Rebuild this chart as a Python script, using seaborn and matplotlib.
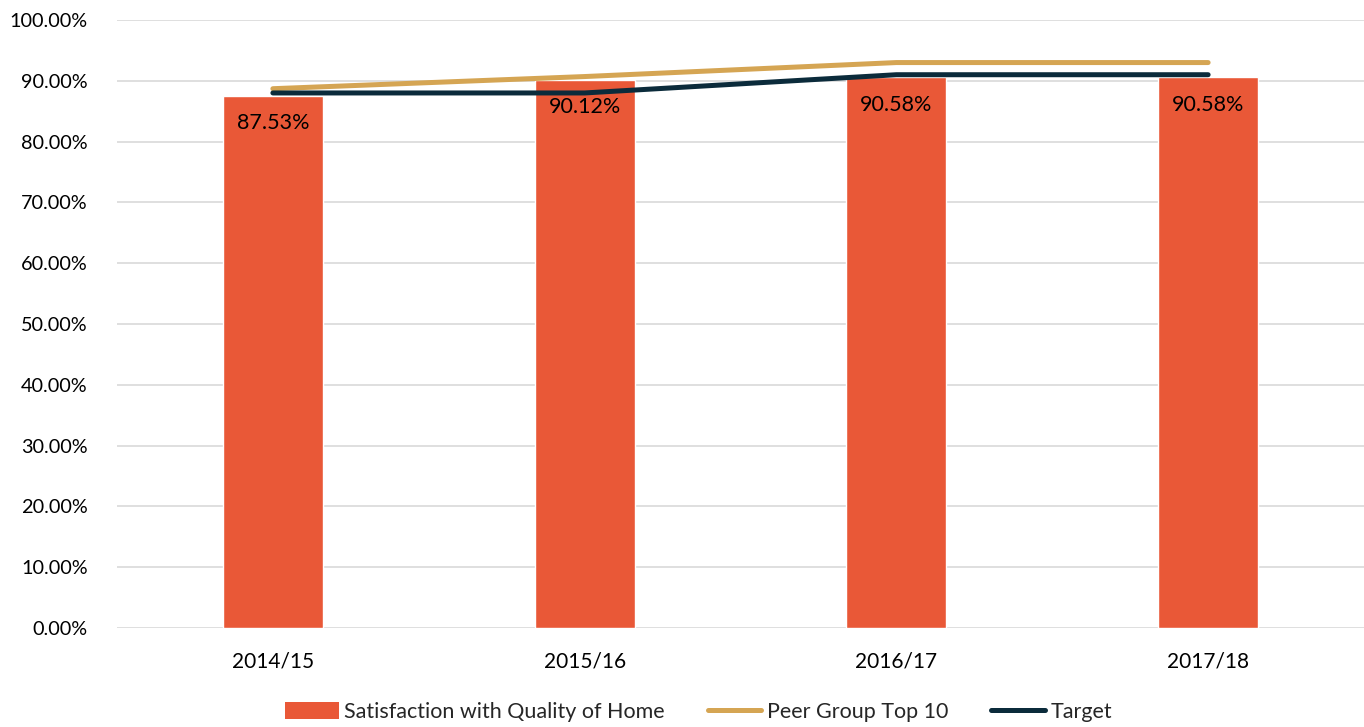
import matplotlib
matplotlib.use("Agg")
import matplotlib.pyplot as plt
import seaborn as sns
import numpy as np
from matplotlib.patches import Patch
from matplotlib.lines import Line2D

categories = ["2014/15", "2015/16", "2016/17", "2017/18"]
satisfaction = [87.53, 90.12, 90.58, 90.58]
peer_top10 = [88.7, 90.7, 93.0, 93.0]
target = [88.0, 88.0, 91.0, 91.0]
yticks = [0, 10, 20, 30, 40, 50, 60, 70, 80, 90, 100]

BAR = "#E95837"
PEER = "#D5A553"
TGT = "#0B2B3B"

sns.set_theme(style="white")
plt.rcParams['font.family'] = ['Lato', 'DejaVu Sans']

fig = plt.figure(figsize=(13.64, 7.27), dpi=100)
ax = fig.add_axes([117/1364, 1-628/727, 1-117/1364, (628-20)/727])

sns.barplot(x=categories, y=satisfaction, color=BAR, width=0.32, saturation=1, ax=ax, zorder=2)
sns.lineplot(x=categories, y=peer_top10, color=PEER, linewidth=3.6, ax=ax, zorder=3,
             solid_capstyle='round', sort=False)
sns.lineplot(x=categories, y=target, color=TGT, linewidth=3.6, ax=ax, zorder=4,
             solid_capstyle='round', sort=False)

for i, v in enumerate(satisfaction):
    ax.text(i, v - 4.5, f"{v:.2f}%", ha='center', va='center', fontsize=15.5, color='black', zorder=5)

ax.set_ylim(0, 100)
ax.set_xlim(-0.5, 3.5)
ax.set_yticks(yticks)
ax.set_yticklabels([f"{t:.2f}%" for t in yticks], fontsize=14.3, color='black')
ax.tick_params(axis='x', labelsize=15, colors='black', length=0, pad=17)
ax.tick_params(axis='y', length=0, pad=21)
ax.set_xlabel("")
ax.set_ylabel("")
ax.grid(axis='y', color='#D9D9D9', linewidth=1.2, zorder=0)
ax.set_axisbelow(True)
for s in ax.spines.values():
    s.set_visible(False)

handles = [Patch(facecolor=BAR, edgecolor='none'),
           Line2D([0], [0], color=PEER, linewidth=3.6, solid_capstyle='round'),
           Line2D([0], [0], color=TGT, linewidth=3.6, solid_capstyle='round')]
labels = ["Satisfaction with Quality of Home", "Peer Group Top 10", "Target"]
fig.legend(handles, labels, loc='center', bbox_to_anchor=(0.512, 1-712/727), ncol=3, frameon=False,
           fontsize=15.5, handlelength=2.5, handleheight=0.85, handletextpad=0.25, columnspacing=2.0)

fig.savefig("out.png", dpi=100)
